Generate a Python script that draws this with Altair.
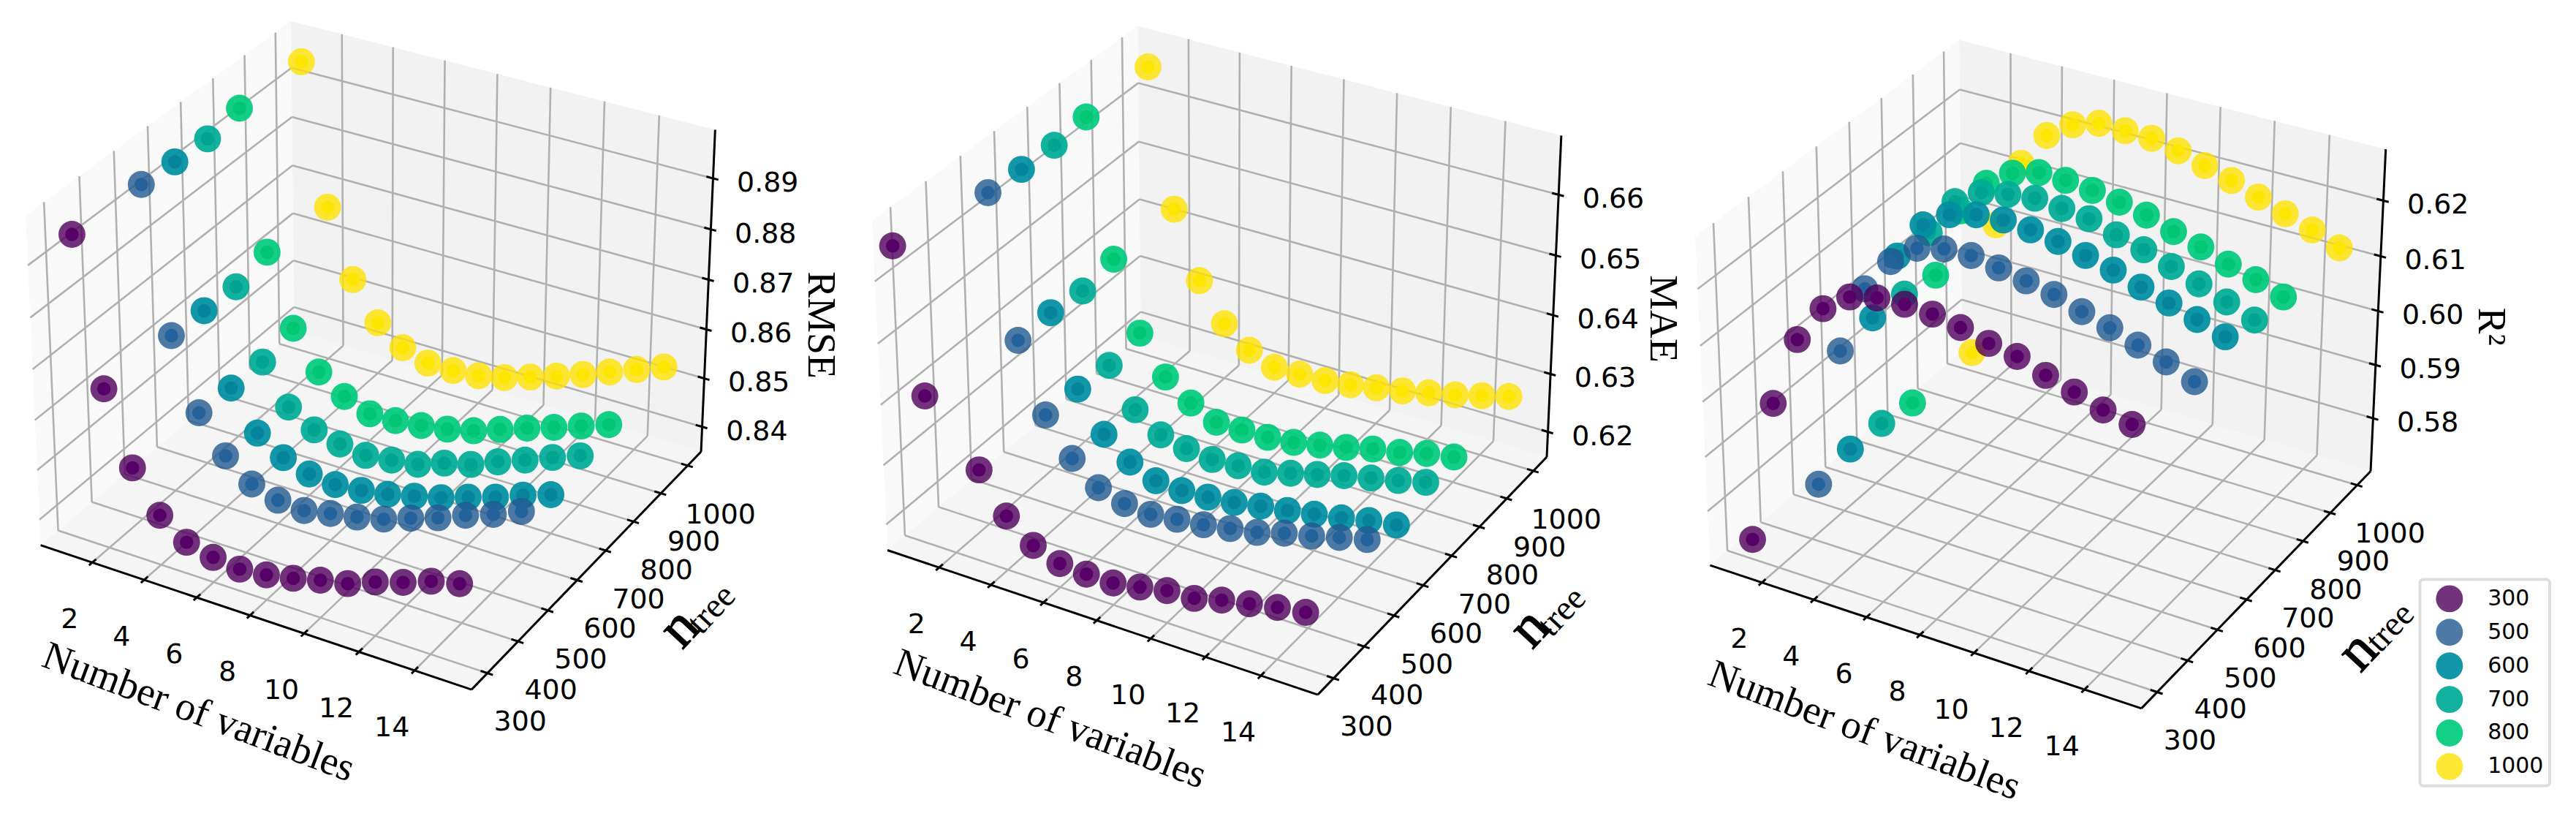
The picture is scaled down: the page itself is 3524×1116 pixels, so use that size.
import altair as alt, numpy as np, pandas as pd

NTREE = [300, 500, 600, 700, 800, 1000]
NVARS = list(range(1, 16))
NVARS_MAE_300 = [0, 1] + list(range(3, 16))

RMSE_300 = [.8948,.8666,.8526,.8448,.8411,.8398,.8392,.8398,.8409,.8423,.8434,.8455,.8472,.8492,.8505]
RMSE_500 = [.8944,.8663,.8524,.8453,.8412,.8396,.8392,.8403,.8413,.8426,.8445,.8463,.8485,.8504,.8527]
RMSE_600 = [.8939,.8660,.8519,.8443,.8409,.8392,.8387,.8392,.8401,.8414,.8428,.8446,.8463,.8484,.8502]
RMSE_700 = [.8936,.8656,.8518,.8441,.8410,.8397,.8390,.8397,.8405,.8424,.8438,.8460,.8480,.8502,.8522]
RMSE_800 = [.8949,.8675,.8534,.8459,.8424,.8404,.8406,.8412,.8421,.8434,.8453,.8472,.8490,.8509,.8528]
RMSE_1000 = [.8949,.8667,.8531,.8455,.8418,.8401,.8401,.8406,.8418,.8435,.8453,.8472,.8493,.8514,.8535]

MAE_300 = [.6635,.6405,.6310,.6247,.6212,.6196,.6193,.6193,.6201,.6210,.6212,.6224,.6233,.6242,.6249]
MAE_500 = [.6649,.6420,.6308,.6248,.6212,.6199,.6195,.6201,.6206,.6214,.6222,.6235,.6245,.6257,.6268]
MAE_600 = [.6646,.6422,.6306,.6242,.6208,.6190,.6187,.6190,.6195,.6203,.6210,.6218,.6226,.6236,.6243]
MAE_700 = [.6645,.6415,.6301,.6238,.6208,.6198,.6193,.6196,.6199,.6211,.6223,.6235,.6245,.6255,.6266]
MAE_800 = [.6652,.6426,.6312,.6249,.6217,.6197,.6197,.6198,.6203,.6212,.6222,.6233,.6241,.6253,.6261]
MAE_1000 = [.6658,.6428,.6316,.6253,.6219,.6202,.6203,.6205,.6211,.6219,.6227,.6237,.6247,.6259,.6271]

R2_300 = [.5736,.6001,.6129,.6197,.6231,.6243,.6246,.6243,.6234,.6221,.6213,.6195,.6181,.6165,.6155]
R2_500 = [.5734,.5997,.6123,.6185,.6222,.6234,.6236,.6228,.6219,.6209,.6193,.6179,.6163,.6148,.6128]
R2_600 = [.5749,.6009,.6135,.6204,.6235,.6248,.6252,.6248,.6241,.6230,.6218,.6202,.6188,.6173,.6157]
R2_700 = [.5747,.6005,.6131,.6200,.6229,.6239,.6245,.6240,.6235,.6220,.6207,.6191,.6174,.6156,.6138]
R2_800 = [.5736,.5993,.6125,.6188,.6219,.6233,.6232,.6227,.6219,.6209,.6193,.6179,.6162,.6148,.6131]
R2_1000 = [.5735,.5995,.6123,.6187,.6219,.6234,.6233,.6232,.6222,.6208,.6194,.6177,.6160,.6144,.6125]

X_TICKS = [2, 4, 6, 8, 10, 12, 14]
Y_TICKS = [300, 400, 500, 600, 700, 800, 900, 1000]
OUTER = ["rgba(79,0,91,0.8)", "rgba(34,89,144,0.8)", "rgba(0,143,161,0.93)",
         "rgba(0,172,152,0.93)", "rgba(0,202,125,0.93)", "rgba(255,226,3,0.8)"]
INNER = ["#570067", "#24629b", "#05849c", "#01a48f", "#00c572", "#ffe600"]
XLIM = (-0.02, 16.02)
YLIM = (249, 1051)

# each panel: reference placement of its box, z range and texts (in crop units, converted by fx / FY)
FY = 1.40
PANELS = [
 dict(ox=0, fx=1.329, corners=[(73,1043),(860,1322),(1277,865),(1303,247),(530,38),(537,635),(47,413)],
      zlim=(.8348,.8994), zticks=[.84,.85,.86,.87,.88,.89],
      series=[RMSE_300,RMSE_500,RMSE_600,RMSE_700,RMSE_800,RMSE_1000], title="RMSE",
      xt=(362,1365), zt=(1495,622), n=(1238,1203), tree=(1297,1168)),
 dict(ox=1170, fx=1.352, corners=[(62,1052),(862,1332),(1285,875),(1312,258),(527,47),(534,645),(35,423)],
      zlim=(.6156,.6696), zticks=[.62,.63,.64,.65,.66],
      series=[MAE_300,MAE_500,MAE_600,MAE_700,MAE_800,MAE_1000], title="MAE",
      xt=(365,1378), zt=(1500,610), n=(1253,1203), tree=(1314,1173)),
 dict(ox=2320, fx=1.302, corners=[(33,1083),(802,1358),(1212,902),(1238,285),(478,75),(481,672),(5,452)],
      zlim=(.5699,.6291), zticks=[.58,.59,.60,.61,.62],
      series=[R2_300,R2_500,R2_600,R2_700,R2_800,R2_1000], title="R²",
      xt=(308,1400), zt=(1425,625), n=(1188,1248), tree=(1247,1203)),
]
CUBE = [(0,0,0),(1,0,0),(1,1,0),(1,1,1),(0,1,1),(0,1,0),(0,0,1)]

def fit(c):
    A, b = [], []
    for (X,Y,Z),(u,v) in zip(CUBE, c):
        A.append([X,Y,Z,1,0,0,0,0,-u*X,-u*Y,-u*Z]); b.append(u)
        A.append([0,0,0,0,X,Y,Z,1,-v*X,-v*Y,-v*Z]); b.append(v)
    return np.linalg.lstsq(np.array(A,float), np.array(b,float), rcond=None)[0]

def proj(h, X, Y, Z):
    w = h[8]*X + h[9]*Y + h[10]*Z + 1
    return (h[0]*X+h[1]*Y+h[2]*Z+h[3])/w, (h[4]*X+h[5]*Y+h[6]*Z+h[7])/w

def pane_rows(poly, color, pid):
    pts = list(poly); rows = []
    for x in sorted({round(p[0],3) for p in pts}):
        ys = []
        for i in range(len(pts)):
            a, b = pts[i], pts[(i+1) % len(pts)]
            lo, hi = min(a[0],b[0]), max(a[0],b[0])
            if lo - 1e-3 <= x <= hi + 1e-3:
                ys.append(a[1] if hi-lo < 1e-6 else a[1] + (x-a[0])/(b[0]-a[0])*(b[1]-a[1]))
                if hi-lo < 1e-6: ys.append(b[1])
        rows.append(dict(px=x, py=min(ys), py2=max(ys), c=color, pid=pid))
    return rows

panes, grid, axes, pts, ticklabels, titles, ntitle = [], [], [], [], [], [], []
for pi, p in enumerate(PANELS):
    cv = lambda q: (p['ox'] + q[0]/p['fx'], q[1]/FY)
    h = fit([cv(q) for q in p['corners']])
    zmin, zmax = p['zlim']
    X = lambda v: (v-XLIM[0])/(XLIM[1]-XLIM[0])
    Y = lambda v: (v-YLIM[0])/(YLIM[1]-YLIM[0])
    Z = lambda v: (v-zmin)/(zmax-zmin)
    P = lambda a,b,c: proj(h,a,b,c)
    def seg(lst, a, b):
        (x1,y1),(x2,y2) = P(*a), P(*b)
        lst.append(dict(px=x1, py=y1, px2=x2, py2=y2))
    panes += pane_rows([P(0,0,0),P(0,1,0),P(0,1,1),P(0,0,1)], "#f9f9f9", f"{pi}l")
    panes += pane_rows([P(0,1,0),P(1,1,0),P(1,1,1),P(0,1,1)], "#f2f2f2", f"{pi}b")
    panes += pane_rows([P(0,0,0),P(1,0,0),P(1,1,0),P(0,1,0)], "#f5f5f5", f"{pi}f")
    for t in X_TICKS:
        a = X(t)
        seg(grid,(a,0,0),(a,1,0)); seg(grid,(a,1,0),(a,1,1))
        seg(axes,(a,-.012,0),(a,.014,0))
        tx,ty = P(a,0,0)
        ticklabels.append(dict(px=tx-31, py=ty+79, t=str(t)))
    for t in Y_TICKS:
        b = Y(t)
        seg(grid,(0,b,0),(1,b,0)); seg(grid,(0,b,0),(0,b,1))
        seg(axes,(.985,b,0),(1.012,b,0))
        tx,ty = P(1,b,0)
        ticklabels.append(dict(px=tx+45, py=ty+68, t=str(t)))
    for t in p['zticks']:
        c = Z(t)
        seg(grid,(0,0,c),(0,1,c)); seg(grid,(0,1,c),(1,1,c))
        seg(axes,(.985,1,c),(1.012,1,c))
        tx,ty = P(1,1,c)
        ticklabels.append(dict(px=tx+75, py=ty+7, t=f"{t:.2f}"))
    seg(axes,(0,0,0),(1,0,0)); seg(axes,(1,0,0),(1,1,0)); seg(axes,(1,1,0),(1,1,1))
    for si in range(len(NTREE)-1, -1, -1):
        xs = NVARS_MAE_300 if (pi == 1 and si == 0) else NVARS
        for xv, zv in zip(xs, p['series'][si]):
            u,v = P(X(xv), Y(NTREE[si]), Z(zv))
            base = len(pts)
            pts.append(dict(px=u, py=v, size=1369, c=OUTER[si], o=base, ntree=NTREE[si], value=zv))
            pts.append(dict(px=u, py=v, size=342, c=INNER[si], o=base+1, ntree=NTREE[si], value=zv))
    a = cv(p['xt']); titles.append(dict(px=a[0], py=a[1], t="Number of variables", s=55, a=20.6))
    a = cv(p['zt']); titles.append(dict(px=a[0], py=a[1], t=p['title'], s=54, a=90))
    a = cv(p['tree']); titles.append(dict(px=a[0], py=a[1], t="tree", s=48, a=313))
    a = cv(p['n']); ntitle.append(dict(px=a[0], py=a[1], t="n", s=80, a=313))

xs = alt.Scale(domain=[8, 3524], range=[0, 3516], nice=False, zero=False)
ys = alt.Scale(domain=[8, 1116], range=[0, 1108], nice=False, zero=False)
ex = alt.X('px:Q', scale=xs, axis=None)
ey = alt.Y('py:Q', scale=ys, axis=None)

pane_layer = alt.Chart(pd.DataFrame(panes)).mark_area(orient='vertical', strokeWidth=0).encode(
    ex, ey, y2='py2:Q', fill=alt.Fill('c:N', scale=None), detail='pid:N')
grid_layer = alt.Chart(pd.DataFrame(grid)).mark_rule(color="#b0b0b0", strokeWidth=2.6).encode(
    ex, ey, x2='px2:Q', y2='py2:Q')
axis_layer = alt.Chart(pd.DataFrame(axes)).mark_rule(color="#000000", strokeWidth=3).encode(
    ex, ey, x2='px2:Q', y2='py2:Q')
point_layer = alt.Chart(pd.DataFrame(pts)).mark_circle(opacity=1, strokeWidth=0).encode(
    ex, ey, size=alt.Size('size:Q', scale=None), fill=alt.Fill('c:N', scale=None), order=alt.Order('o:Q'))
tick_layer = alt.Chart(pd.DataFrame(ticklabels)).mark_text(
    font="DejaVu Sans", fontSize=38, color="#000000", baseline="middle", align="center").encode(ex, ey, text='t:N')
title_layer = alt.Chart(pd.DataFrame(titles)).mark_text(
    font="Liberation Serif", color="#000000", baseline="middle", align="center").encode(
    ex, ey, text='t:N', size=alt.Size('s:Q', scale=None), angle=alt.Angle('a:Q', scale=None))
n_layer = alt.Chart(pd.DataFrame(ntitle)).mark_text(
    font="Liberation Serif", color="#000000", stroke="#000000", strokeWidth=1.2, baseline="middle", align="center").encode(
    ex, ey, text='t:N', size=alt.Size('s:Q', scale=None), angle=alt.Angle('a:Q', scale=None))

LEGEND_LABELS = [str(n) for n in NTREE]
legend_df = pd.DataFrame(dict(px=[3358]*6, py=[819 + i*45.8 for i in range(6)], ntree=LEGEND_LABELS, inner=INNER))
legend_layer = alt.Chart(legend_df).mark_circle(size=0, opacity=1).encode(
    ex, ey,
    fill=alt.Fill('ntree:N', scale=alt.Scale(domain=LEGEND_LABELS, range=OUTER),
      legend=alt.Legend(title=None, orient='none', legendX=3318-8, legendY=793-8, padding=8,
                        strokeColor="#dddddd", fillColor="#ffffff", cornerRadius=5,
                        symbolType="circle", symbolSize=1369, symbolStrokeWidth=0, symbolOffset=14,
                        labelFont="DejaVu Sans", labelFontSize=30, labelColor="#000000", labelOffset=34,
                        rowPadding=9, labelExpr="datum.label + '\u00a0\u00a0\u00a0'")))
legend_inner = alt.Chart(legend_df).mark_circle(size=342, opacity=1, strokeWidth=0).encode(
    ex, ey, fill=alt.Fill('inner:N', scale=None))

chart = alt.layer(pane_layer, grid_layer, axis_layer, point_layer, tick_layer, title_layer, n_layer,
                  legend_layer, legend_inner).resolve_scale(fill='independent').properties(
    width=3516, height=1108, padding=0, autosize=alt.AutoSizeParams(type="none"), background="#ffffff"
).configure_view(stroke=None).configure_legend(strokeWidth=4)
chart.save("out.html", embed_options={"renderer": "svg", "actions": False})
